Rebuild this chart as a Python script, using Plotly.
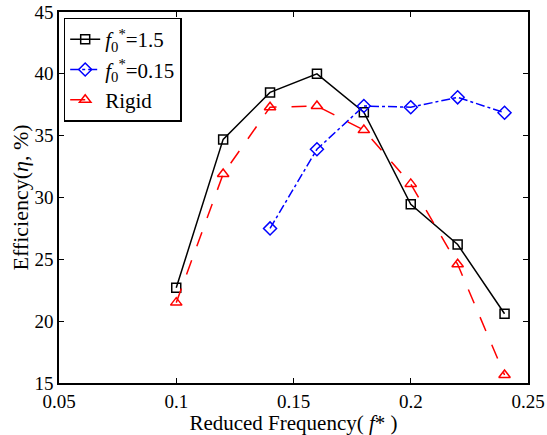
import plotly.graph_objects as go

freq = [0.10, 0.12, 0.14, 0.16, 0.18, 0.20, 0.22, 0.24]
eff_f15 = [22.7, 34.7, 38.5, 40.0, 36.9, 29.45, 26.2, 20.6]
freq_f015 = [0.14, 0.16, 0.18, 0.20, 0.22, 0.24]
eff_f015 = [27.5, 33.9, 37.4, 37.3, 38.1, 36.85]
eff_rigid = [21.5, 31.9, 37.3, 37.4, 35.45, 31.1, 24.6, 15.65]

font = "Liberation Serif"

fig = go.Figure()
fig.add_trace(go.Scatter(
    x=freq, y=eff_f15, mode="lines+markers",
    name="<i>f</i><sub>0</sub><sup>*</sup>=1.5",
    line=dict(color="black", width=1.5, dash="solid"),
    marker=dict(symbol="square-open", size=9, color="black", line=dict(width=1.5)),
))
fig.add_trace(go.Scatter(
    x=freq_f015, y=eff_f015, mode="lines+markers",
    name="<i>f</i><sub>0</sub><sup>*</sup>=0.15",
    line=dict(color="blue", width=1.5, dash="dashdot"),
    marker=dict(symbol="diamond-open", size=10, color="blue", line=dict(width=1.5)),
))
fig.add_trace(go.Scatter(
    x=freq, y=eff_rigid, mode="lines+markers",
    name="Rigid",
    line=dict(color="red", width=1.5, dash="longdash"),
    marker=dict(symbol="triangle-up-open", size=10, color="red", line=dict(width=1.5)),
))

axis_common = dict(
    showgrid=False, zeroline=False, showline=True, linecolor="black", linewidth=1.5,
    mirror="ticks", ticks="inside", ticklen=5, tickwidth=1, tickcolor="black",
    tickfont=dict(family=font, size=19, color="black"), automargin=False,
)
fig.update_xaxes(range=[0.05, 0.25], tickvals=[0.05, 0.1, 0.15, 0.2, 0.25],
                 ticktext=["0.05", "0.1", "0.15", "0.2", "0.25"],
                 title=dict(text="Reduced Frequency( <i>f</i>* )", font=dict(family=font, size=21, color="black"), standoff=0),
                 **axis_common)
fig.update_yaxes(range=[15, 45], tickvals=[15, 20, 25, 30, 35, 40, 45],
                 title=dict(text="Efficiency(<i>η</i>, %)", font=dict(family=font, size=22, color="black"), standoff=0),
                 **axis_common)

fig.update_layout(
    width=547, height=435,
    margin=dict(l=58.5, r=18.5, t=12, b=52, pad=0, autoexpand=False),
    plot_bgcolor="white", paper_bgcolor="white",
    font=dict(family=font, size=19, color="black"),
    legend=dict(x=0.01, y=0.985, xanchor="left", yanchor="top",
                bgcolor="white", bordercolor="black", borderwidth=1.5,
                font=dict(family=font, size=21, color="black"),
                tracegroupgap=0, itemwidth=30),
    showlegend=True,
)

fig.write_html("out.html")
